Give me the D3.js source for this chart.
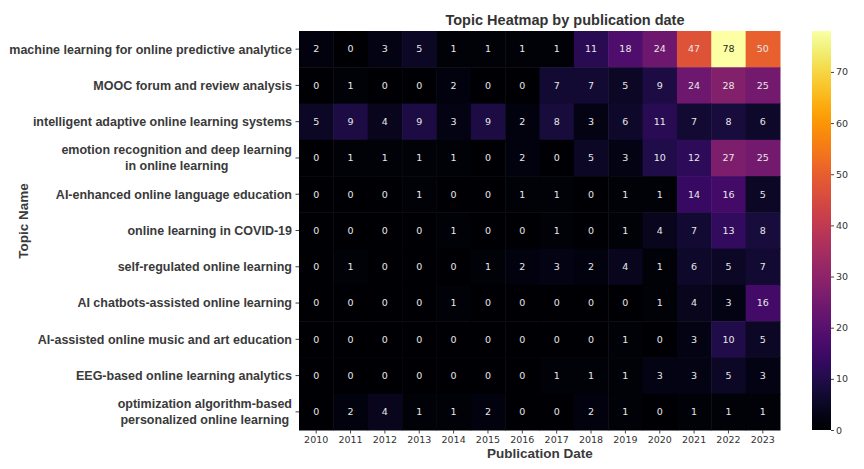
<!DOCTYPE html>
<html><head><meta charset="utf-8">
<script src="https://cdn.jsdelivr.net/npm/d3@7"></script>
<style>body{margin:0;background:#fff}svg{display:block}</style>
</head><body>
<svg id="c" width="864" height="469"></svg>
<script>
const years = ["2010","2011","2012","2013","2014","2015","2016","2017","2018","2019","2020","2021","2022","2023"];
const topics = [
  "machine learning for online predictive analytice",
  "MOOC forum and review analysis",
  "intelligent adaptive online learning systems",
  "emotion recognition and deep learning \nin online learning",
  "AI-enhanced online language education",
  "online learning in COVID-19",
  "self-regulated online learning",
  "AI chatbots-assisted online learning",
  "AI-assisted online music and art education",
  "EEG-based online learning analytics",
  "optimization algorithm-based \npersonalized online learning"
];
const counts = [
  [2,0,3,5,1,1,1,1,11,18,24,47,78,50],
  [0,1,0,0,2,0,0,7,7,5,9,24,28,25],
  [5,9,4,9,3,9,2,8,3,6,11,7,8,6],
  [0,1,1,1,1,0,2,0,5,3,10,12,27,25],
  [0,0,0,1,0,0,1,1,0,1,1,14,16,5],
  [0,0,0,0,1,0,0,1,0,1,4,7,13,8],
  [0,1,0,0,0,1,2,3,2,4,1,6,5,7],
  [0,0,0,0,1,0,0,0,0,0,1,4,3,16],
  [0,0,0,0,0,0,0,0,0,1,0,3,10,5],
  [0,0,0,0,0,0,0,1,1,1,3,3,5,3],
  [0,2,4,1,1,2,0,0,2,1,0,1,1,1]
];
const cbTicks = [0,10,20,30,40,50,60,70];
const vmin = 0, vmax = 78;

const svg = d3.select("#c");
const L = 299, R = 780, T = 31, B = 430;
const x = d3.scaleBand().domain(years).range([L, R]);
const y = d3.scaleBand().domain(topics).range([T, B]);
const color = d3.scaleSequential(d3.interpolateInferno).domain([vmin, vmax]);

const cells = [];
counts.forEach((row, i) => row.forEach((v, j) => cells.push({t: topics[i], yr: years[j], v})));

svg.append("g").selectAll("rect").data(cells).join("rect")
  .attr("x", d => x(d.yr)).attr("y", d => y(d.t))
  .attr("width", x.bandwidth() + 0.5).attr("height", y.bandwidth() + 0.5)
  .attr("fill", d => color(d.v));

function lum(c) {
  const rgb = d3.rgb(c);
  const f = u => { u /= 255; return u <= 0.03928 ? u / 12.92 : Math.pow((u + 0.055) / 1.055, 2.4); };
  return 0.2126 * f(rgb.r) + 0.7152 * f(rgb.g) + 0.0722 * f(rgb.b);
}

svg.append("g").selectAll("text").data(cells).join("text")
  .attr("x", d => x(d.yr) + x.bandwidth() / 2)
  .attr("y", d => y(d.t) + y.bandwidth() / 2)
  .attr("dy", "0.35em")
  .attr("text-anchor", "middle")
  .attr("font-family", "DejaVu Sans")
  .attr("font-size", 9.5)
  .attr("fill", d => lum(color(d.v)) > 0.408 ? "#262626" : "#e8e8e8")
  .text(d => d.v);

// x axis
const xa = svg.append("g").attr("transform", `translate(0,${B})`)
  .call(d3.axisBottom(x).tickSize(3.5).tickPadding(3));
xa.select(".domain").remove();
xa.selectAll("line").attr("stroke", "#444");
xa.selectAll("text").attr("font-family", "DejaVu Sans").attr("font-size", 9.5).attr("fill", "#333");

// y axis
const ya = svg.append("g").attr("transform", `translate(${L},0)`)
  .call(d3.axisLeft(y).tickSize(3.5).tickFormat(""));
ya.select(".domain").remove();
ya.selectAll("line").attr("stroke", "#444");

const ylab = svg.append("g");
topics.forEach(t => {
  const lines = t.split("\n").map(s => s.trim());
  const cy = y(t) + y.bandwidth() / 2;
  const g = ylab.append("g");
  const lh = 16;
  const texts = lines.map((s, k) => g.append("text")
    .attr("font-family", "Liberation Sans, Arial, sans-serif")
    .attr("font-weight", "bold").attr("font-size", 12.5)
    .attr("fill", "#3a3a3a")
    .attr("text-anchor", "middle")
    .attr("y", cy + (k - (lines.length - 1) / 2) * lh)
    .attr("dy", "0.35em").text(s));
  const w = d3.max(texts, tx => tx.node().getComputedTextLength());
  const right = L - 7;
  texts.forEach(tx => tx.attr("x", right - w / 2));
});

// titles
svg.append("text").attr("x", 565).attr("y", 25).attr("text-anchor", "middle")
  .attr("font-family", "Liberation Sans, Arial, sans-serif").attr("font-weight", "bold")
  .attr("font-size", 14.5).attr("fill", "#333").text("Topic Heatmap by publication date");
svg.append("text").attr("x", 540).attr("y", 458).attr("text-anchor", "middle")
  .attr("font-family", "Liberation Sans, Arial, sans-serif").attr("font-weight", "bold")
  .attr("font-size", 13.5).attr("fill", "#3a3a3a").text("Publication Date");
svg.append("text").attr("transform", "translate(28,221) rotate(-90)").attr("text-anchor", "middle")
  .attr("font-family", "Liberation Sans, Arial, sans-serif").attr("font-weight", "bold")
  .attr("font-size", 13.5).attr("fill", "#3a3a3a").text("Topic Name");

// colorbar
const cbX = 812, cbW = 19;
const cy = d3.scaleLinear().domain([vmin, vmax]).range([B, T]);
const defs = svg.append("defs");
const grad = defs.append("linearGradient").attr("id", "cbg").attr("x1", 0).attr("x2", 0).attr("y1", 1).attr("y2", 0);
d3.range(0, 1.0001, 0.02).forEach(s => grad.append("stop").attr("offset", s).attr("stop-color", color(vmin + s * (vmax - vmin))));
svg.append("rect").attr("x", cbX).attr("y", T).attr("width", cbW).attr("height", B - T).attr("fill", "url(#cbg)");
const ca = svg.append("g").attr("transform", `translate(${cbX + cbW},0)`)
  .call(d3.axisRight(cy).tickValues(cbTicks).tickSize(3).tickPadding(2));
ca.select(".domain").remove();
ca.selectAll("line").attr("stroke", "#444");
ca.selectAll("text").attr("font-family", "DejaVu Sans").attr("font-size", 9.5).attr("fill", "#333");
</script>
</body></html>
